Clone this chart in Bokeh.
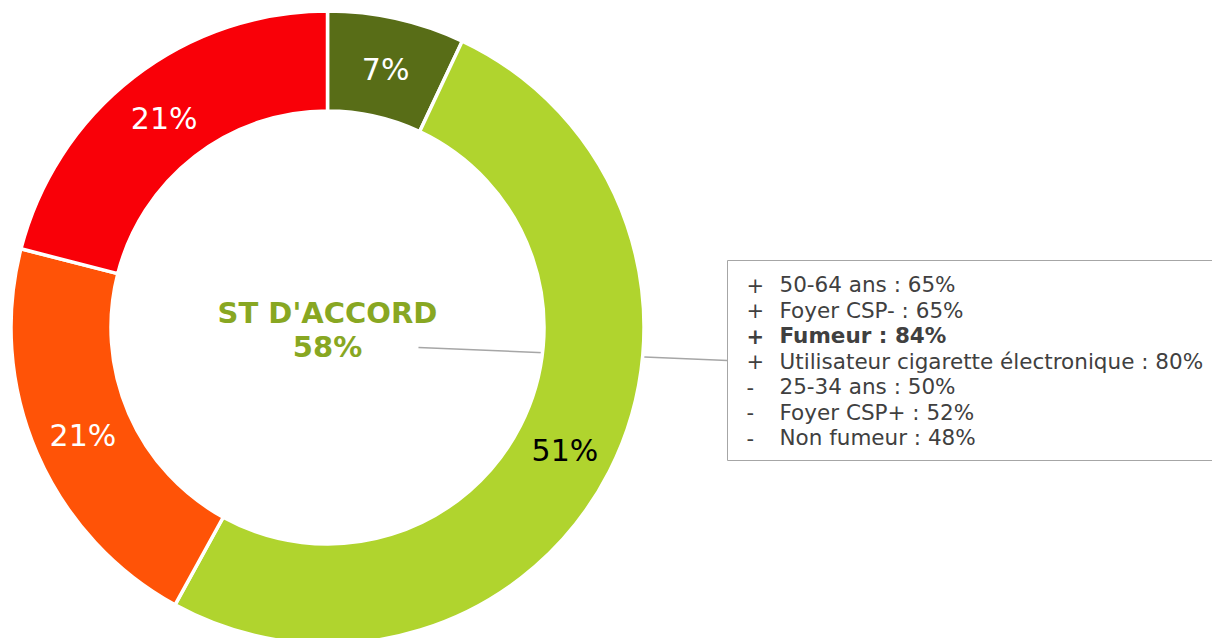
import math
from bokeh.plotting import figure
from bokeh.models import Range1d, ColumnDataSource
from bokeh.core.properties import value
from bokeh.embed import file_html
from bokeh.resources import INLINE

# ---- data ----
categories = ["Tout à fait d'accord", "Plutôt d'accord", "Plutôt pas d'accord", "Pas du tout d'accord"]
values = [7, 51, 21, 21]
slice_colors = ["#586D17", "#B0D42E", "#FF5307", "#F90008"]
label_colors = ["white", "black", "white", "white"]
center_title = "ST D'ACCORD"
center_value = "58%"
box_signs = ["+", "+", "+", "+", "-", "-", "-"]
box_labels = ["50-64 ans : 65%", "Foyer CSP- : 65%", "Fumeur : 84%",
              "Utilisateur cigarette électronique : 80%", "25-34 ans : 50%",
              "Foyer CSP+ : 52%", "Non fumeur : 48%"]
box_bold = [False, False, True, False, False, False, False]

W, H = 1212, 638
def Y(py):
    return H - py

cx, cy = 327, Y(327)
r_in, r_out = 218, 315
font = "DejaVu Sans"

p = figure(width=W, height=H, x_range=Range1d(0, W), y_range=Range1d(0, H),
           x_axis_type=None, y_axis_type=None, toolbar_location=None,
           output_backend="svg", min_border=0)
p.grid.visible = False
p.outline_line_color = None
p.background_fill_color = "white"

# leader line (behind ring)
p.line([418, 727], [Y(347), Y(360)], line_color="#A6A6A6", line_width=1.5)

# wedges
total = sum(values)
starts, ends, lx, ly = [], [], [], []
cum = 0
for v in values:
    a0 = math.pi / 2 - 2 * math.pi * cum / total
    cum += v
    a1 = math.pi / 2 - 2 * math.pi * cum / total
    starts.append(a0)
    ends.append(a1)
    am = (a0 + a1) / 2
    rm = (r_in + r_out) / 2
    lx.append(cx + rm * math.cos(am))
    ly.append(cy + rm * math.sin(am) - 2)

src = ColumnDataSource(dict(cat=categories, val=values, start=starts, end=ends,
                            color=slice_colors, lx=lx, ly=ly,
                            label=[f"{v}%" for v in values], lcolor=label_colors))
p.annular_wedge(x=cx, y=cy, inner_radius=r_in - 1.5, outer_radius=r_out + 1.5,
                start_angle="start", end_angle="end", direction="clock",
                fill_color="color", line_color="white", line_width=3.5, source=src)
p.text(x="lx", y="ly", text="label", text_color="lcolor", text_align="center",
       text_baseline="middle", text_font=value(font), text_font_size="30px", source=src)

# center text
p.text(x=[cx, cx], y=[Y(312), Y(346)], text=[center_title, center_value],
       text_color="#88A722", text_align="center", text_baseline="middle",
       text_font=value(font), text_font_size="29px", text_font_style="bold")

# box
p.quad(left=727, right=W + 5, top=Y(260), bottom=Y(460), fill_color="white",
       line_color="#A6A6A6", line_width=1)
line_y = [Y(284 + i * 25.5) for i in range(len(box_labels))]
for i, (s, t, b) in enumerate(zip(box_signs, box_labels, box_bold)):
    style = "bold" if b else "normal"
    p.text(x=[746], y=[line_y[i]], text=[s], text_color="#404040", text_align="left",
           text_baseline="middle", text_font=value(font), text_font_size="21px",
           text_font_style=style)
    p.text(x=[779], y=[line_y[i]], text=[t], text_color="#404040", text_align="left",
           text_baseline="middle", text_font=value(font), text_font_size="21.5px",
           text_font_style=style)

open("out.html", "w").write(file_html(p, INLINE))
